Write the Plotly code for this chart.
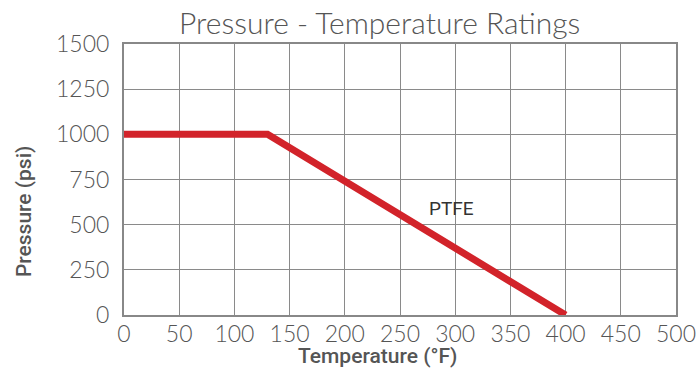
import plotly.graph_objects as go

# PTFE rating curve
temperature_f = [0, 130, 400]
pressure_psi = [1000, 1000, 0]

x_ticks = [0, 50, 100, 150, 200, 250, 300, 350, 400, 450, 500]
y_ticks = [0, 250, 500, 750, 1000, 1250, 1500]

label_text = "PTFE"
label_x, label_y = 297, 590

GREY = "#555555"
GRID = "#8a8a8a"
RED = "#d2232a"
LIGHT_FONT = "Lato, 'Open Sans', sans-serif"
TITLE_FONT = "Roboto, 'Liberation Sans', sans-serif"

fig = go.Figure()
fig.add_trace(
    go.Scatter(
        x=temperature_f,
        y=pressure_psi,
        mode="lines",
        line={"color": RED, "width": 7},
        showlegend=False,
        hoverinfo="skip",
    )
)

fig.add_annotation(
    x=label_x, y=label_y, text=label_text, showarrow=False,
    font={"family": "Roboto, Arial, sans-serif", "size": 19, "color": "#333333"},
)

# axis titles sit off-centre in the reference, so place them as annotations
axis_title_font = {"family": TITLE_FONT, "size": 21, "color": GREY, "weight": 500}
fig.add_annotation(
    text="Temperature (°F)", xref="paper", yref="paper", x=0.46, y=-0.151,
    xanchor="center", yanchor="middle", showarrow=False, font=axis_title_font,
)
fig.add_annotation(
    text="Pressure (psi)", xref="paper", yref="paper", x=-0.181, y=0.38,
    xanchor="center", yanchor="middle", showarrow=False, textangle=-90,
    font=axis_title_font,
)

axis_common = dict(
    showgrid=True,
    gridcolor=GRID,
    gridwidth=1,
    showline=True,
    linecolor="#888888",
    linewidth=2,
    mirror=True,
    zeroline=False,
    ticks="",
    automargin=False,
    ticklabeloverflow="allow",
    tickfont={"family": LIGHT_FONT, "size": 23, "color": GREY, "weight": 300},
)

fig.update_layout(
    width=698,
    height=377,
    margin={"l": 124, "r": 22, "t": 44, "b": 62},
    paper_bgcolor="white",
    plot_bgcolor="white",
    title={
        "text": "Pressure - Temperature Ratings",
        "x": 0.544,
        "xanchor": "center",
        "y": 0.937,
        "yanchor": "middle",
        "font": {"family": LIGHT_FONT, "size": 30, "color": GREY, "weight": 300},
    },
    xaxis=dict(
        axis_common,
        range=[0, 500],
        tickvals=x_ticks,
        ticklabelstandoff=-3,
    ),
    yaxis=dict(
        axis_common,
        range=[0, 1500],
        tickvals=y_ticks,
        ticklabelstandoff=8,
    ),
)

# drop the default 8px body margin so the figure fills the window exactly
fig.write_html(
    "out.html",
    config={"displayModeBar": False},
    post_script="document.body.style.margin = '0';",
)
